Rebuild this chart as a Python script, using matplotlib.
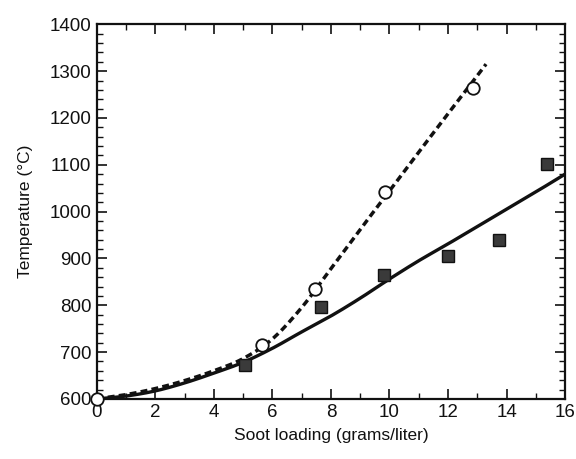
import matplotlib
matplotlib.use("Agg")
import matplotlib.pyplot as plt
import numpy as np

plt.rcParams['font.family'] = ['Liberation Sans', 'DejaVu Sans']

# Measured points
circle_x = [0, 5.65, 7.45, 9.85, 12.85]
circle_y = [600, 714, 835, 1042, 1265]
square_x = [5.05, 7.65, 9.8, 12.0, 13.75, 15.4]
square_y = [672, 797, 865, 906, 940, 1102]

# Curves
dashed_x = [0, 1, 2, 3, 4, 5, 6, 7, 8, 9, 10, 11, 12, 13, 13.3]
dashed_y = [600, 609, 622, 639, 660, 686, 728, 795, 878, 962, 1044, 1127, 1209, 1290, 1315]
solid_x = [0, 1, 2, 3, 4, 5, 6, 7, 8, 9, 10, 11, 12, 13, 14, 15, 16]
solid_y = [600, 606, 617, 634, 655, 678, 708, 743, 777, 815, 856, 895, 931, 968, 1005, 1042, 1080]

x_ticks = [0, 2, 4, 6, 8, 10, 12, 14, 16]
y_ticks = [600, 700, 800, 900, 1000, 1100, 1200, 1300, 1400]

fig = plt.figure(figsize=(5.76, 4.59), dpi=100)
ax = fig.add_axes([0.168, 0.131, 0.813, 0.816])

def smooth(xs, ys):
    xs = np.asarray(xs, float); ys = np.asarray(ys, float)
    pts = np.column_stack([xs, ys])
    out = []
    P = np.vstack([pts[0], pts, pts[-1]])
    for i in range(1, len(P) - 2):
        p0, p1, p2, p3 = P[i - 1], P[i], P[i + 1], P[i + 2]
        t = np.linspace(0, 1, 20, endpoint=False)[:, None]
        seg = 0.5 * ((2 * p1) + (-p0 + p2) * t + (2 * p0 - 5 * p1 + 4 * p2 - p3) * t**2 + (-p0 + 3 * p1 - 3 * p2 + p3) * t**3)
        out.append(seg)
    out.append(pts[-1][None, :])
    out = np.vstack(out)
    return out[:, 0], out[:, 1]

sx, sy = smooth(solid_x, solid_y)
dx, dy = smooth(dashed_x, dashed_y)
ax.plot(sx, sy, color='#111111', lw=2.4, solid_capstyle='butt', zorder=2)
ax.plot(dx, dy, color='#111111', lw=2.5, linestyle=(0, (2.0, 1.2)), zorder=2)

ax.plot(square_x, square_y, linestyle='none', marker='s', markersize=8.5,
        markerfacecolor='#3a3a3a', markeredgecolor='#111111', markeredgewidth=1.0, zorder=3)
ax.plot(circle_x, circle_y, linestyle='none', marker='o', markersize=9,
        markerfacecolor='white', markeredgecolor='#111111', markeredgewidth=1.3, zorder=4,
        clip_on=False)

ax.set_xlim(0, 16)
ax.set_ylim(600, 1400)
ax.set_xticks(x_ticks)
ax.set_yticks(y_ticks)
ax.set_xticks(np.arange(0, 16.1, 1), minor=True)
ax.set_yticks(np.arange(600, 1401, 20), minor=True)
ax.tick_params(which='both', direction='in', top=True, right=True, labelsize=13.5, colors='#111111')
ax.tick_params(which='major', length=7, width=1.2, pad=4)
ax.tick_params(which='minor', length=4, width=1.0)
for s in ax.spines.values():
    s.set_linewidth(1.6)
    s.set_color('#111111')

ax.set_xlabel('Soot loading (grams/liter)', fontsize=12.5, color='#111111', labelpad=5)
ax.set_ylabel('Temperature (°C)', fontsize=12.5, color='#111111', labelpad=12)

fig.savefig('out.png', dpi=100)
